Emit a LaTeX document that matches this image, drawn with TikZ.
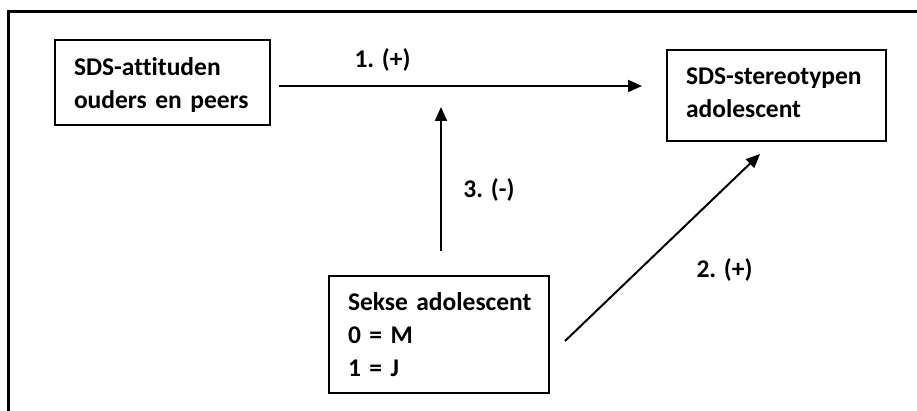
\documentclass[tikz,border=0pt]{standalone}
\usepackage{fontspec}
\setmainfont{Carlito}[Ligatures=NoCommon]
\usetikzlibrary{arrows.meta}
\tikzset{
  box/.style={draw=black, line width=2pt, anchor=north west, inner xsep=19pt, inner ysep=0pt,
    align=left, font=\bfseries\fontsize{25.5}{33}\selectfont},
  conn/.style={line width=2pt, -{Triangle[length=14pt,width=12pt]}},
  lbl/.style={anchor=base, inner sep=0pt, font=\bfseries\fontsize{25.5}{33}\selectfont}
}
\begin{document}
\begin{tikzpicture}[x=1pt,y=-1pt]
\clip (0,0) rectangle (917,411);
\fill[white] (0,0) rectangle (917,411);
\draw[line width=2.5pt] (8.5,11.5) rectangle (940,440);
\node[box, text width=177pt, text height=35.5pt, text depth=49pt] (att) at (54,39.5)
  {\mbox{SDS-attituden}\\\mbox{ouders en peers}};
\node[box, text width=181pt, text height=34.3pt, text depth=56.7pt] (ster) at (666,49)
  {\mbox{SDS-stereotypen}\\\mbox{adolescent}};
\node[box, text width=182pt, text height=34.3pt, text depth=82.7pt] (sekse) at (328,275)
  {\mbox{Sekse adolescent}\\\mbox{0 = M}\\\mbox{1 = J}};
\coordinate (a1s) at (279,86);
\coordinate (a1e) at (642,86);
\coordinate (a3s) at (441,251);
\coordinate (a3e) at (441,107);
\coordinate (a2s) at (565,341);
\coordinate (a2e) at (760,154);
\draw[conn] (a1s) -- (a1e);
\draw[conn] (a3s) -- (a3e);
\draw[conn] (a2s) -- (a2e);
\node[lbl] (l1) at (382.5,68) {1. (+)};
\node[lbl] (l3) at (489,198) {3. (-)};
\node[lbl] (l2) at (724.5,278) {2. (+)};
\end{tikzpicture}
\end{document}
